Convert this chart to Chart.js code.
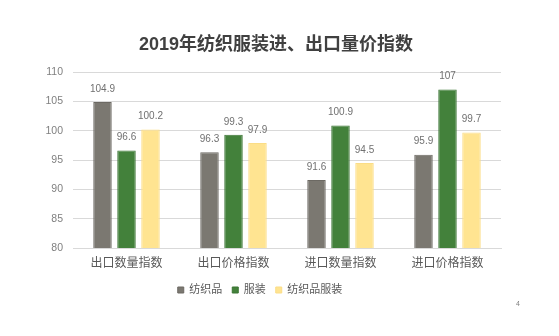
<!DOCTYPE html>
<html>
<head>
<meta charset="utf-8">
<script src="https://cdn.jsdelivr.net/npm/chart.js@4/dist/chart.umd.min.js"></script>
<style>
  html, body { margin: 0; padding: 0; background: #fff; }
  #wrap { width: 559px; height: 336px; }
</style>
</head>
<body>
<div id="wrap"><canvas id="chart_1" width="559" height="336"></canvas></div>
<script>
const categories = ['出口数量指数', '出口价格指数', '进口数量指数', '进口价格指数'];
const textiles = [104.9, 96.3, 91.6, 95.9];
const clothing = [96.6, 99.3, 100.9, 107];
const textiles_clothing = [100.2, 97.9, 94.5, 99.7];
const series_names = ['纺织品', '服装', '纺织品服装'];
const y_ticks = [80, 85, 90, 95, 100, 105, 110];

const font_family = '"Liberation Sans", "Noto Sans CJK SC", sans-serif';

// values over the bars
const valueLabels = {
    id: 'valueLabels',
    afterDatasetsDraw(chart) {
        const c = chart.ctx;
        c.save();
        c.font = '10px ' + font_family;
        c.fillStyle = '#707070';
        c.textAlign = 'center';
        c.textBaseline = 'middle';
        chart.data.datasets.forEach((ds, i) => {
            chart.getDatasetMeta(i).data.forEach((bar, j) => {
                c.fillText(String(ds.data[j]), bar.x, bar.y - 13);
            });
        });
        // little page mark bottom right
        c.font = '7px ' + font_family;
        c.fillStyle = '#808080';
        c.fillText('4', chart.width - 41, chart.height - 32);
        c.restore();
    }
};

// title sits a bit right and legend a bit left of the layout centre
const boxShift = {
    id: 'boxShift',
    afterLayout(chart) {
        chart.titleBlock.left += 10.5;
        chart.titleBlock.right += 10.5;
        chart.legend.left -= 5.5;
        chart.legend.right -= 5.5;
    }
};

var ctx = document.getElementById('chart_1').getContext('2d');

var myBarChart = new Chart(ctx, {
    type: 'bar',
    data: {
        labels: categories,
        datasets: [{
            label: series_names[0],
            data: textiles,
            backgroundColor: '#7b7871',
            borderColor: '#6c6963',
            borderWidth: 1
        }, {
            label: series_names[1],
            data: clothing,
            backgroundColor: '#43813b',
            borderColor: '#3a7433',
            borderWidth: 1
        }, {
            label: series_names[2],
            data: textiles_clothing,
            backgroundColor: '#ffe491',
            borderColor: '#fbdd86',
            borderWidth: 1
        }]
    },
    options: {
        responsive: false,
        animation: false,
        devicePixelRatio: 1,
        categoryPercentage: 0.673,
        barPercentage: 0.77,
        layout: {
            padding: { top: 0, left: 30, right: 58, bottom: 30.5 }
        },
        plugins: {
            title: {
                display: true,
                text: '2019年纺织服装进、出口量价指数',
                color: '#404040',
                font: { family: font_family, size: 18, weight: 'bold' },
                padding: { top: 34.2, bottom: 16.2 }
            },
            legend: {
                position: 'bottom',
                labels: {
                    boxWidth: 6,
                    boxHeight: 6,
                    padding: 10,
                    color: '#595959',
                    font: { family: font_family, size: 11 }
                }
            },
            tooltip: { enabled: false }
        },
        scales: {
            x: {
                grid: { display: false, drawTicks: false },
                border: { display: true, color: '#d9d9d9' },
                ticks: {
                    color: '#595959',
                    padding: 8,
                    font: { family: font_family, size: 12 }
                },
                afterFit(scale) { scale.height = 26.5; }
            },
            y: {
                min: 80,
                max: 110,
                afterBuildTicks(scale) {
                    scale.ticks = y_ticks.map(v => ({ value: v }));
                },
                grid: { color: '#d9d9d9', drawTicks: false },
                border: { display: false },
                ticks: {
                    color: '#808080',
                    padding: 10,
                    font: { family: font_family, size: 10.5 }
                },
                afterFit(scale) { scale.width = 43; }
            }
        }
    },
    plugins: [valueLabels, boxShift]
});
</script>
</body>
</html>
